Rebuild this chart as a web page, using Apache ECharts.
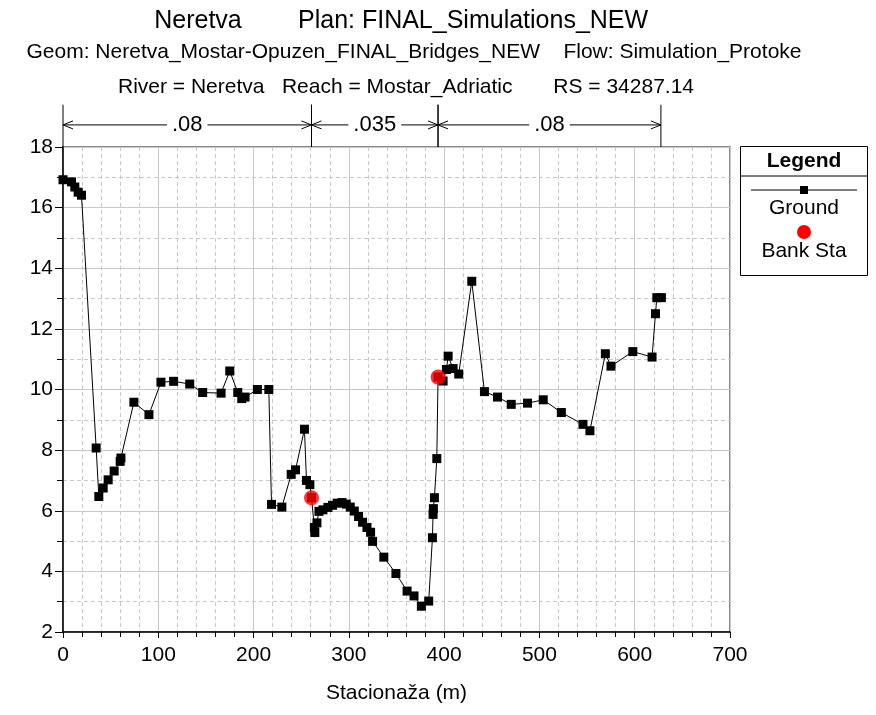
<!DOCTYPE html>
<html>
<head>
<meta charset="utf-8">
<script src="https://cdn.jsdelivr.net/npm/echarts@6/dist/echarts.min.js"></script>
<style>
html,body{margin:0;padding:0;background:#fff;}
#chart{width:876px;height:715px;}
</style>
</head>
<body>
<div id="chart"></div>
<script>
// ---- data ----
var stations = [0, 8.9, 12.4, 15.9, 19.4, 34.8, 37.6, 42.2, 47.4, 53.7, 60.0, 60.8, 74.4, 90.2, 102.8, 116.1, 133, 146.6, 165.9, 175, 183.4, 187.6, 191.1, 204, 216, 218.8, 229.7, 239.5, 244, 253.4, 255.5, 259.1, 260.8, 263.8, 264.3, 266.5, 268.6, 272.8, 278, 282.9, 287.8, 292.8, 297.3, 301.5, 305.7, 310.2, 314.4, 319, 322.8, 324.9, 336.7, 349.4, 361.1, 368.4, 376.1, 383.8, 387.7, 388.4, 388.7, 389.8, 392.3, 393.6, 398.9, 402.4, 404.2, 409.4, 415.3, 429, 442.3, 456, 470.4, 487.5, 504, 523, 545.7, 553, 569.2, 575.1, 598, 618.2, 621.8, 623.2, 628];
var elevations = [16.92, 16.85, 16.68, 16.51, 16.41, 8.07, 6.47, 6.75, 7.02, 7.31, 7.63, 7.74, 9.58, 9.17, 10.24, 10.27, 10.18, 9.90, 9.88, 10.61, 9.90, 9.70, 9.75, 10.0, 10.0, 6.21, 6.12, 7.20, 7.35, 8.69, 7.0, 6.86, 6.43, 5.45, 5.28, 5.6, 5.98, 6.03, 6.11, 6.18, 6.25, 6.27, 6.22, 6.12, 5.99, 5.81, 5.62, 5.45, 5.29, 4.99, 4.47, 3.93, 3.35, 3.19, 2.85, 3.02, 5.11, 5.88, 6.07, 6.43, 7.72, 10.41, 10.28, 10.66, 11.1, 10.69, 10.51, 13.57, 9.93, 9.75, 9.51, 9.55, 9.66, 9.24, 8.85, 8.64, 11.18, 10.77, 11.25, 11.07, 12.5, 13.03, 13.03];
var bankStations = [260.8, 393.6];
var bankElevations = [6.43, 10.41];
var nStart = [0, 260.8, 393.6];
var nEnd = [260.8, 393.6, 627.5];
var nValues = ['.08', '.035', '.08'];
var xTicks = [0, 100, 200, 300, 400, 500, 600, 700];
var yTicks = [2, 4, 6, 8, 10, 12, 14, 16, 18];

var titleLine1a = 'Neretva';
var titleLine1b = 'Plan: FINAL_Simulations_NEW';
var titleLine2 = 'Geom: Neretva_Mostar-Opuzen_FINAL_Bridges_NEW    Flow: Simulation_Protoke';
var titleLine3 = 'River = Neretva   Reach = Mostar_Adriatic       RS = 34287.14';
var xName = 'Stacionaža (m)';

// ---- build ----
var groundData = stations.map(function (s, i) { return [s, elevations[i]]; });
var bankData = bankStations.map(function (s, i) { return [s, bankElevations[i]]; });
var nData = nStart.map(function (s, i) { return [s, nEnd[i], nValues[i]]; });

var FONT = 'Liberation Sans, Arial, sans-serif';
var chart = echarts.init(document.getElementById('chart'), null, {renderer: 'canvas'});

function txt(text, x, y, size, align, bold) {
  return {type: 'text', x: x, y: y, style: {text: text, font: (bold ? 'bold ' : '') + size + 'px ' + FONT,
    fill: '#000', align: align || 'center', verticalAlign: 'middle'}};
}

var option = {
  backgroundColor: '#fff',
  animation: false,
  textStyle: {fontFamily: FONT},
  grid: [
    {left: 63, right: 146, top: 147, bottom: 83, show: true, borderColor: '#666', borderWidth: 1.5, backgroundColor: 'transparent'},
    {left: 63, right: 146, top: 100, height: 47}
  ],
  xAxis: [
    {
      type: 'value', gridIndex: 0, min: 0, max: 700, interval: 100,
      name: xName, nameLocation: 'middle', nameGap: 51,
      nameTextStyle: {fontSize: 21, color: '#000', fontFamily: FONT},
      axisLine: {show: true, onZero: false, lineStyle: {color: '#000', width: 1.5}},
      axisTick: {show: true, length: 6, lineStyle: {color: '#000'}},
      minorTick: {show: true, splitNumber: 5, length: 5, lineStyle: {color: '#000'}},
      axisLabel: {fontSize: 21, color: '#000', margin: 13, fontFamily: FONT,
        formatter: function (v) { return xTicks.indexOf(v) >= 0 ? String(v) : ''; }},
      splitLine: {show: true, lineStyle: {color: '#c8c8c8', width: 1}},
      minorSplitLine: {show: true, lineStyle: {color: '#c8c8c8', width: 1, type: [4, 3]}}
    },
    {type: 'value', gridIndex: 1, min: 0, max: 700, show: false}
  ],
  yAxis: [
    {
      type: 'value', gridIndex: 0, min: 2, max: 18, interval: 2,
      axisLine: {show: true, onZero: false, lineStyle: {color: '#000', width: 1.5}},
      axisTick: {show: true, length: 8, lineStyle: {color: '#000'}},
      minorTick: {show: true, splitNumber: 2, length: 6, lineStyle: {color: '#000'}},
      axisLabel: {fontSize: 21, color: '#000', margin: 10, fontFamily: FONT,
        formatter: function (v) { return yTicks.indexOf(v) >= 0 ? String(v) : ''; }},
      splitLine: {show: true, lineStyle: {color: '#c8c8c8', width: 1}},
      minorSplitLine: {show: true, lineStyle: {color: '#c8c8c8', width: 1, type: [4, 3]}}
    },
    {type: 'value', gridIndex: 1, min: 0, max: 1, show: false}
  ],
  series: [
    {
      name: 'Ground', type: 'line', xAxisIndex: 0, yAxisIndex: 0,
      data: groundData, symbol: 'rect', symbolSize: 9,
      lineStyle: {color: '#000', width: 1},
      itemStyle: {color: '#000'},
      z: 3
    },
    {
      name: 'Bank Sta', type: 'scatter', xAxisIndex: 0, yAxisIndex: 0,
      data: bankData, symbol: 'circle', symbolSize: 15,
      itemStyle: {color: '#ff0000'}, z: 4
    },
    {
      name: 'n', type: 'custom', xAxisIndex: 1, yAxisIndex: 1, data: nData,
      renderItem: function (params, api) {
        var x0 = api.value(0), x1 = api.value(1), label = nValues[params.dataIndex];
        var a = api.coord([x0, 0.47]), b = api.coord([x1, 0.47]);
        var top0 = api.coord([x0, 0.9]), bot0 = api.coord([x0, 0]);
        var top1 = api.coord([x1, 0.9]), bot1 = api.coord([x1, 0]);
        var st = {stroke: '#000', lineWidth: 1};
        var y = a[1];
        return {
          type: 'group',
          children: [
            {type: 'line', shape: {x1: top0[0], y1: top0[1], x2: bot0[0], y2: bot0[1]}, style: st},
            {type: 'line', shape: {x1: top1[0], y1: top1[1], x2: bot1[0], y2: bot1[1]}, style: st},
            {type: 'line', shape: {x1: a[0], y1: y, x2: b[0], y2: y}, style: st},
            {type: 'polyline', shape: {points: [[a[0] + 10, y - 4], [a[0], y], [a[0] + 10, y + 4]]}, style: {stroke: '#000', lineWidth: 1, fill: null}},
            {type: 'polyline', shape: {points: [[b[0] - 10, y - 4], [b[0], y], [b[0] - 10, y + 4]]}, style: {stroke: '#000', lineWidth: 1, fill: null}},
            {type: 'text', x: (a[0] + b[0]) / 2, y: y,
              style: {text: label, fill: '#000', font: '22px ' + FONT, align: 'center', verticalAlign: 'middle',
                backgroundColor: '#fff', padding: [0, 5]}}
          ]
        };
      }
    }
  ],
  graphic: [
    txt(titleLine1a, 198, 21, 25, 'center'),
    txt(titleLine1b, 298, 21, 25, 'left'),
    txt(titleLine2, 414, 52, 21, 'center'),
    txt(titleLine3, 406, 87, 21, 'center'),
    {type: 'rect', left: 740, top: 146, shape: {width: 127, height: 129}, style: {fill: '#fff', stroke: '#000', lineWidth: 1}},
    {type: 'line', shape: {x1: 740, y1: 176, x2: 867, y2: 176}, style: {stroke: '#000', lineWidth: 1}},
    txt('Legend', 804, 161, 21, 'center', true),
    {type: 'line', shape: {x1: 751, y1: 190, x2: 857, y2: 190}, style: {stroke: '#000', lineWidth: 1}},
    {type: 'rect', shape: {x: 800, y: 186, width: 8, height: 8}, style: {fill: '#000'}},
    txt('Ground', 804, 208, 21, 'center'),
    {type: 'circle', shape: {cx: 804, cy: 232, r: 7}, style: {fill: '#ff0000'}},
    txt('Bank Sta', 804, 251, 21, 'center')
  ]
};
chart.setOption(option);
</script>
</body>
</html>
